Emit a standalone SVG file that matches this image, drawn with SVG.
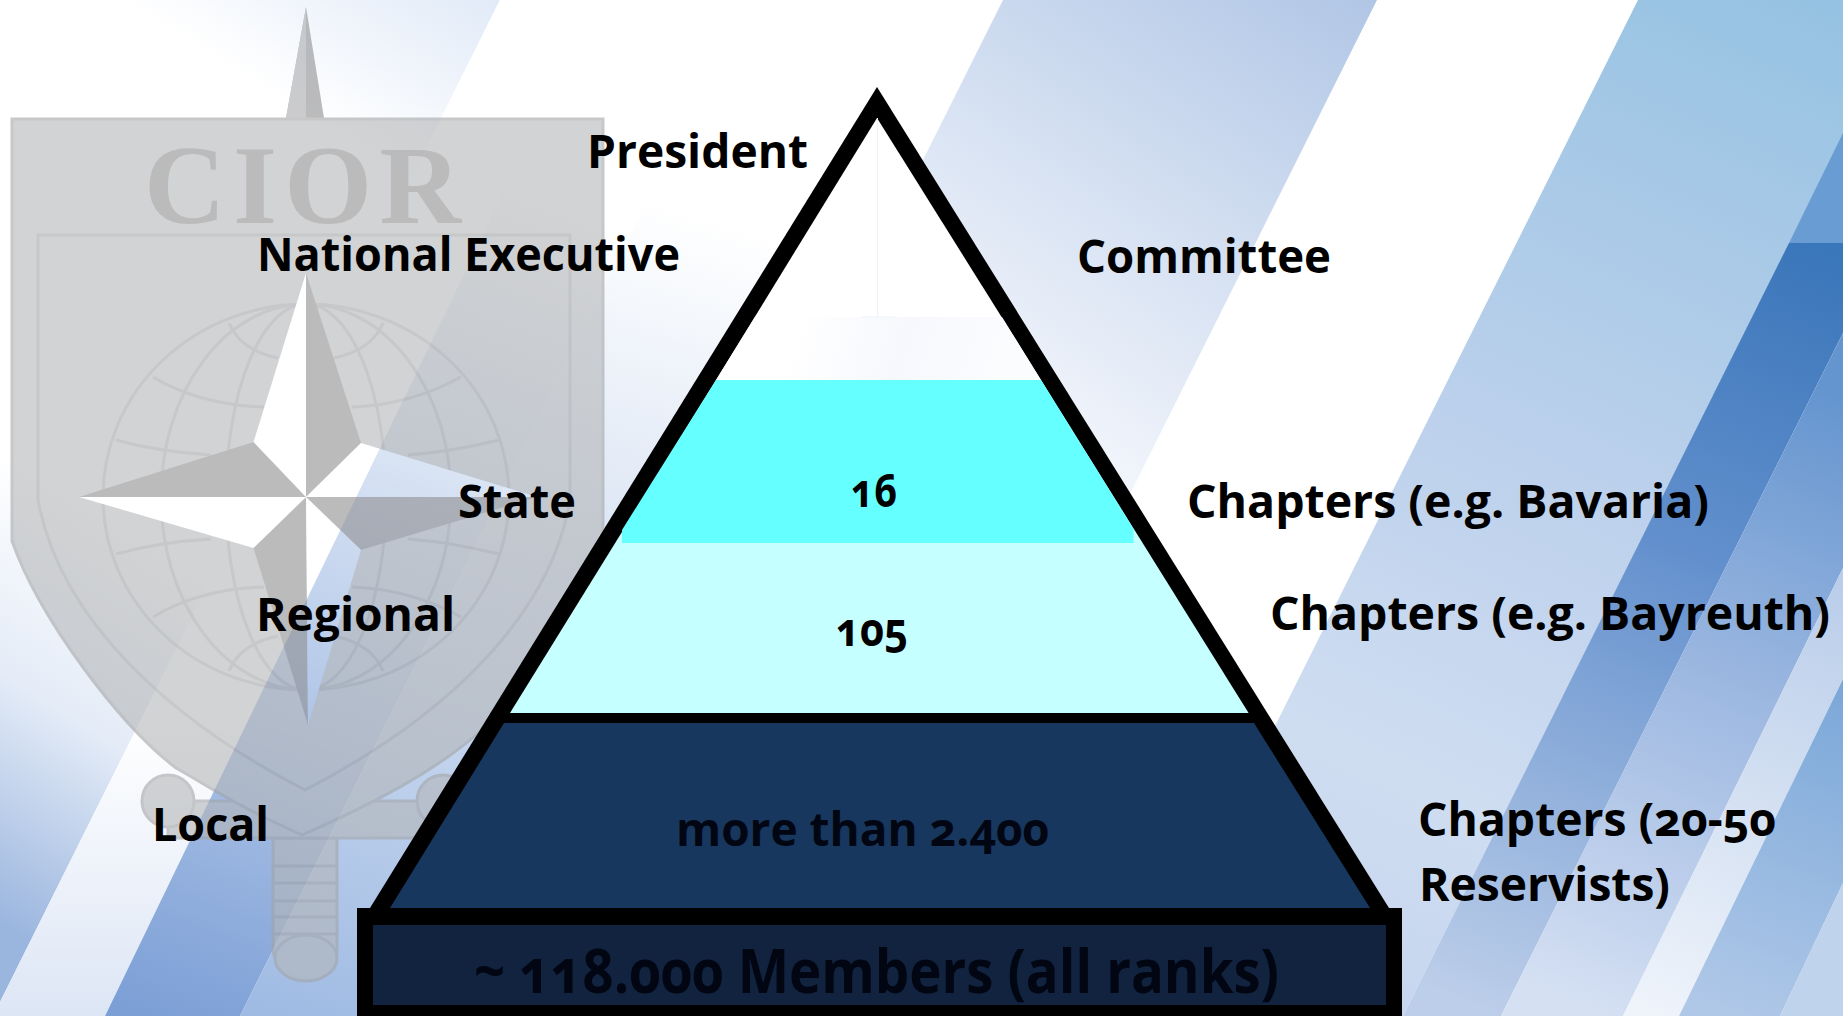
<svg xmlns="http://www.w3.org/2000/svg" width="1843" height="1016" viewBox="0 0 1843 1016">
<style>
text{font-family:"Open Sans","Noto Sans","Liberation Sans",sans-serif;font-weight:700;font-size:47px;fill:#000;font-feature-settings:"onum";}
.dk{fill:#020612}
.ln{fill:none;stroke:#a3a4a6;stroke-width:3}
.arm{fill:#8f8f91}
.sh{fill:#b4b6b8;stroke:#a3a4a6;stroke-width:3}
</style>
<defs>
<linearGradient id="gA" gradientUnits="userSpaceOnUse" x1="520" y1="0" x2="-40" y2="900"><stop offset="0" stop-color="#dfe9f7"/><stop offset=".2" stop-color="#fff"/><stop offset=".62" stop-color="#fff"/><stop offset=".8" stop-color="#e3ebf7"/><stop offset="1" stop-color="#9ab5de"/></linearGradient>
<linearGradient id="gS" gradientUnits="userSpaceOnUse" x1="0" y1="720" x2="0" y2="1016"><stop offset="0" stop-color="#fff"/><stop offset="1" stop-color="#dde6f5"/></linearGradient>
<linearGradient id="gB" gradientUnits="userSpaceOnUse" x1="460" y1="170" x2="150" y2="1016"><stop offset="0" stop-color="#fff"/><stop offset=".45" stop-color="#c9d8ef"/><stop offset="1" stop-color="#7c9fd6"/></linearGradient>
<linearGradient id="gC" gradientUnits="userSpaceOnUse" x1="560" y1="170" x2="300" y2="1016"><stop offset="0" stop-color="#fff"/><stop offset=".55" stop-color="#cddbf0"/><stop offset="1" stop-color="#a0bbe3"/></linearGradient>
<linearGradient id="g2" gradientUnits="userSpaceOnUse" x1="1400" y1="0" x2="1050" y2="520"><stop offset="0" stop-color="#afc5e5"/><stop offset="1" stop-color="#fafbfe"/></linearGradient>
<linearGradient id="g3" gradientUnits="userSpaceOnUse" x1="1843" y1="0" x2="1400" y2="1016"><stop offset="0" stop-color="#95c2e2"/><stop offset=".5" stop-color="#bdd1ec"/><stop offset=".8" stop-color="#cfddf1"/><stop offset="1" stop-color="#c6d6ee"/></linearGradient>
<linearGradient id="g4" gradientUnits="userSpaceOnUse" x1="1800" y1="243" x2="1500" y2="1016"><stop offset="0" stop-color="#3a76ba"/><stop offset=".4" stop-color="#6390cd"/><stop offset="1" stop-color="#bccee9"/></linearGradient>
<linearGradient id="g5" gradientUnits="userSpaceOnUse" x1="1843" y1="400" x2="1600" y2="1016"><stop offset="0" stop-color="#6595cf"/><stop offset=".5" stop-color="#a0bae2"/><stop offset="1" stop-color="#d5e0f3"/></linearGradient>
<linearGradient id="g6" gradientUnits="userSpaceOnUse" x1="1843" y1="568" x2="1650" y2="1016"><stop offset="0" stop-color="#b8cce9"/><stop offset="1" stop-color="#eff4fb"/></linearGradient>
<linearGradient id="g7" gradientUnits="userSpaceOnUse" x1="1843" y1="680" x2="1720" y2="1016"><stop offset="0" stop-color="#7aa7d8"/><stop offset="1" stop-color="#b0c8e8"/></linearGradient>
<linearGradient id="gW" gradientUnits="userSpaceOnUse" x1="800" y1="317" x2="1000" y2="380"><stop offset="0" stop-color="#fff"/><stop offset=".5" stop-color="#f6f8fd"/><stop offset="1" stop-color="#fbfcfe"/></linearGradient>
<mask id="holes" maskUnits="userSpaceOnUse" x="0" y="0" width="1843" height="1016">
<rect width="1843" height="1016" fill="#fff"/>
<g fill="#000"><polygon points="306,273 253.5,442 306,497"/><polygon points="79,497 253.5,548 306,497"/><polygon points="308,725 361,550 306,497"/><polygon points="537,497 361,443 306,497"/></g>
</mask>
</defs>
<rect width="1843" height="1016" fill="#fff"/>
<g id="background">
<polygon points="124,0 500,0 -7,1016 -383,1016" fill="url(#gA)"/>
<polygon points="500,0 597,0 105,1016 -7,1016" fill="url(#gS)"/>
<polygon points="597,0 748,0 240,1016 105,1016" fill="url(#gB)"/>
<polygon points="748,0 1003,0 495,1016 240,1016" fill="url(#gC)"/>
<polygon points="1003,0 1377,0 869,1016 495,1016" fill="url(#g2)"/>
<polygon points="1638,0 1911,0 1403,1016 1130,1016" fill="url(#g3)"/>
<polygon points="1843,133 1843,243 1789,243" fill="#689cd2"/>
<polygon points="1789,243 1843,243 1843,333 1501,1016 1403,1016" fill="url(#g4)"/>
<polygon points="1843,333 1843,568 1623,1016 1501,1016" fill="url(#g5)"/>
<polygon points="1843,568 1843,679 1679,1016 1623,1016" fill="url(#g6)"/>
<polygon points="1843,679 1843,883 1780,1016 1679,1016" fill="url(#g7)"/>
<polygon points="1843,883 1843,1016 1780,1016" fill="#c0d3ec"/>
</g>
<g id="emblem" opacity=".6" mask="url(#holes)">
<path class="sh" d="M273 838V952A33 30 0 0 0 337 952V838Z"/>
<ellipse class="sh" cx="306" cy="958" rx="31" ry="23"/>
<path class="ln" d="M273 866H337M273 883H337M273 901H337M273 917H337M273 934H337"/>
<path class="sh" d="M168 801H443V838H168Z"/>
<circle class="sh" cx="168" cy="801" r="26"/>
<circle class="sh" cx="443" cy="801" r="26"/>
<polygon class="arm" points="306,7 286,118 324,118"/>
<polygon fill="#a9aaad" points="306,7 286,118 306,118"/>
<path class="sh" d="M12 119H603V541C590 610 530 690 487 725C440 770 370 805 302 835C235 805 215 790 176 768C120 725 40 620 12 541Z"/>
<path class="ln" d="M38 235H570V500C550 620 440 720 305 790C170 720 60 620 38 500Z"/>
<ellipse class="ln" cx="306" cy="497" rx="203" ry="193"/>
<ellipse class="ln" cx="306" cy="497" rx="145" ry="193"/>
<ellipse class="ln" cx="306" cy="497" rx="80" ry="193"/>
<path class="ln" d="M229 323Q240 350 278 358M383 323Q372 350 334 358M153 377Q200 405 264 407M461 377Q410 405 352 407M116 440Q160 452 211 455M499 440Q450 452 408 455M229 671Q240 644 278 636M383 671Q372 644 334 636M153 617Q200 589 264 587M461 617Q410 589 352 587M116 554Q160 542 211 539M499 554Q450 542 408 539"/>
<polygon class="arm" points="306,273 361,443 306,497"/>
<polygon class="arm" points="79,497 253.5,442 306,497"/>
<polygon class="arm" points="308,725 253.5,548 306,497"/>
<polygon class="arm" points="537,497 361,550 306,497"/>
<text x="144" y="223" style="font-family:'Liberation Serif',serif;font-size:113px;fill:#8f8f91" textLength="317" lengthAdjust="spacing">CIOR</text>
</g>
<g id="pyramid">
<polygon points="877,87 1389,908 370,908" fill="#000"/>
<polygon id="tier-top" points="877,118 1041,380 716,380" fill="#fff"/>
<polygon points="755,317 1002,317 1041,380 716,380" fill="url(#gW)"/>
<path d="M877.5 118V317M862 317H895" stroke="#eef2fa" stroke-width="1" fill="none"/>
<polygon id="tier-light" points="716,380 1041,380 1248.6,713 510,713" fill="#c6ffff"/>
<polygon id="tier-cyan" points="716,380 1041,380 1133.5,529 1133.5,543 622,543 622,530" fill="#66ffff"/>
<rect x="505" y="713" width="748" height="10" fill="#000"/>
<polygon id="tier-navy" points="504,723 1254,723 1370,908 390,908" fill="#17375e"/>
<rect x="357" y="908" width="1045" height="108" fill="#000"/>
<rect id="tier-base" x="373" y="925" width="1013" height="80" fill="#11233f"/>
</g>
<g id="labels">
<text x="587" y="168" textLength="221" lengthAdjust="spacingAndGlyphs">President</text>
<text x="257" y="271" textLength="423" lengthAdjust="spacingAndGlyphs">National Executive</text>
<text x="1077" y="273" textLength="254" lengthAdjust="spacingAndGlyphs">Committee</text>
<text x="458" y="518" textLength="118" lengthAdjust="spacingAndGlyphs">State</text>
<text x="256" y="631" textLength="199" lengthAdjust="spacingAndGlyphs">Regional</text>
<text x="152" y="841" textLength="117" lengthAdjust="spacingAndGlyphs">Local</text>
<text x="1187" y="518" textLength="522" lengthAdjust="spacingAndGlyphs">Chapters (e.g. Bavaria)</text>
<text x="1270" y="630" textLength="560" lengthAdjust="spacingAndGlyphs">Chapters (e.g. Bayreuth)</text>
<text x="1418" y="836" textLength="358" lengthAdjust="spacingAndGlyphs">Chapters (20-50</text>
<text x="1419" y="901" textLength="251" lengthAdjust="spacingAndGlyphs">Reservists)</text>
<text x="851" y="507" textLength="46" lengthAdjust="spacingAndGlyphs">16</text>
<text x="836" y="646" textLength="72" lengthAdjust="spacingAndGlyphs">105</text>
<text class="dk" x="676" y="846" textLength="373" lengthAdjust="spacingAndGlyphs">more than 2.400</text>
<text class="dk" x="474" y="993" textLength="805" lengthAdjust="spacingAndGlyphs" style="font-size:60px">~ 118.000 Members (all ranks)</text>
</g>
</svg>
